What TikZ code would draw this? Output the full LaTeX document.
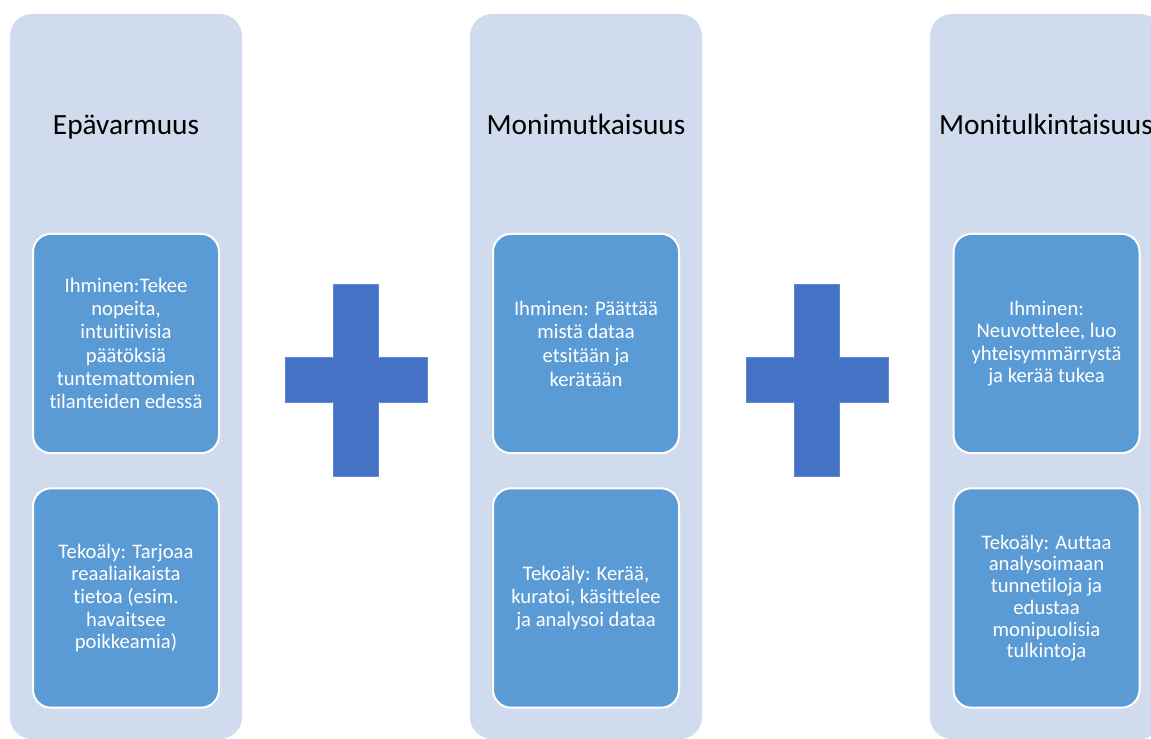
\documentclass[tikz,border=0pt]{standalone}
\usepackage{fontspec}
\setmainfont[Ligatures=NoCommon]{Carlito}
\definecolor{colbg}{HTML}{D0DCEE}
\definecolor{boxbg}{HTML}{5B9BD5}
\definecolor{crossc}{HTML}{4472C4}
\tikzset{
  colbox/.style={fill=colbg, draw=none, rounded corners=16.5pt, minimum width=174pt, minimum height=543.75pt, inner sep=0pt},
  innerbox/.style={fill=boxbg, draw=white, line width=1.5pt, rounded corners=13.5pt, minimum width=139.5pt, minimum height=164.5pt, inner sep=0pt, text=white, align=center, font=\fontsize{15.5pt}{#1}\selectfont},
  innerbox/.default=16.8pt,
  titletext/.style={text=black, font=\fontsize{22pt}{26pt}\selectfont, inner sep=0pt, anchor=base},
  crossshape/.style={fill=crossc, draw=crossc!85!white, line width=0.5pt}
}
\begin{document}
\begin{tikzpicture}[x=0.75pt,y=-0.75pt]
\useasboundingbox (0,0) rectangle (1151,738);
\clip (0,0) rectangle (1151,738);
% columns
\node[colbox] (c1) at (126,376.5) {};
\node[colbox] (c2) at (586,376.5) {};
\node[colbox] (c3) at (1046,376.5) {};
% titles
\node[titletext] (t1) at (126,134) {Epävarmuus};
\node[titletext] (t2) at (586,134) {Monimutkaisuus};
\node[titletext] (t3) at (1046,134) {Monitulkintaisuus};
% inner boxes
\node[innerbox=17.5pt] (h1) at (126,343.5) {Ihminen:Tekee\\nopeita,\\intuitiivisia\\päätöksiä\\tuntemattomien\\tilanteiden edessä};
\node[innerbox=16.9pt] (a1) at (126,598) {Tekoäly: Tarjoaa\\reaaliaikaista\\tietoa (esim.\\havaitsee\\poikkeamia)};
\node[innerbox=17.8pt] (h2) at (586,343.5) {Ihminen: Päättää\\mistä dataa\\etsitään ja\\kerätään};
\node[innerbox=17.5pt] (a2) at (586,598) {Tekoäly: Kerää,\\kuratoi, käsittelee\\ja analysoi dataa};
\node[innerbox=16.7pt] (h3) at (1046.5,343.5) {Ihminen:\\Neuvottelee, luo\\yhteisymmärrystä\\ja kerää tukea};
\node[innerbox=16.3pt] (a3) at (1046.5,598) {Tekoäly: Auttaa\\analysoimaan\\tunnetiloja ja\\edustaa\\monipuolisia\\tulkintoja};
% plus signs
\foreach \cx/\nm in {356/p1, 817/p2}{
  \coordinate (\nm) at (\cx,380);
  \draw[crossshape] ([shift={(-22.5,-96)}]\nm) -- ([shift={(22.5,-96)}]\nm) -- ([shift={(22.5,-22.5)}]\nm) -- ([shift={(71,-22.5)}]\nm) -- ([shift={(71,22.5)}]\nm) -- ([shift={(22.5,22.5)}]\nm) -- ([shift={(22.5,96)}]\nm) -- ([shift={(-22.5,96)}]\nm) -- ([shift={(-22.5,22.5)}]\nm) -- ([shift={(-71,22.5)}]\nm) -- ([shift={(-71,-22.5)}]\nm) -- ([shift={(-22.5,-22.5)}]\nm) -- cycle;
}
\end{tikzpicture}
\end{document}
